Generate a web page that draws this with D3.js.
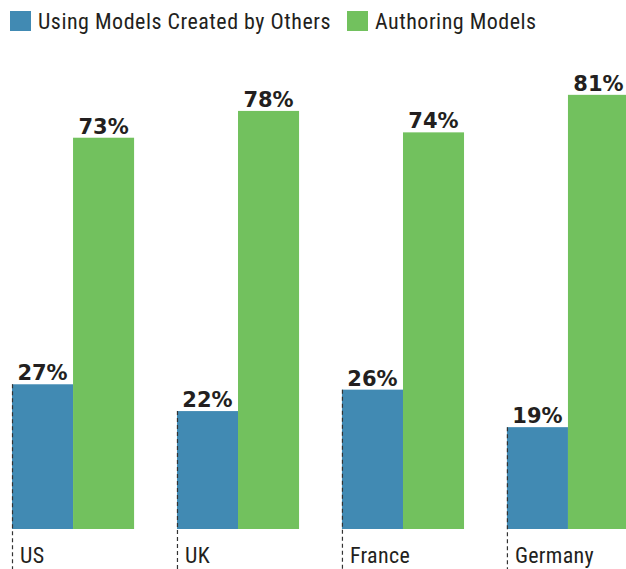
<!DOCTYPE html>
<html>
<head>
<meta charset="utf-8">
<script src="https://cdn.jsdelivr.net/npm/d3@7"></script>
<style>
  body { margin: 0; background: #fff; }
  svg { display: block; }
</style>
</head>
<body>
<div id="chart"></div>
<script>
const countries = ['US', 'UK', 'France', 'Germany'];
const seriesNames = ['Using Models Created by Others', 'Authoring Models'];
const usingOthers = [27, 22, 26, 19];
const authoring = [73, 78, 74, 81];
const colors = ['#418ab3', '#72c15e'];

const width = 626, height = 569;
const baseY = 529;
const textColor = '#231f20';
const condensed = '"Roboto Condensed", Roboto, sans-serif';

const svg = d3.select('#chart').append('svg')
    .attr('width', width)
    .attr('height', height);

const x0 = d3.scaleBand()
    .domain(countries)
    .range([12, 629])
    .paddingInner(0.26)
    .paddingOuter(0);

const x1 = d3.scaleBand()
    .domain(seriesNames)
    .range([0, x0.bandwidth()]);

const y = d3.scaleLinear()
    .domain([0, 100])
    .range([baseY, baseY - 536]);

const rows = countries.map((c, i) => ({
    country: c,
    values: [
        { key: seriesNames[0], value: usingOthers[i], color: colors[0] },
        { key: seriesNames[1], value: authoring[i], color: colors[1] }
    ]
}));

// legend
const legend = svg.append('g');
const legendX = [10, 347];
seriesNames.forEach((name, i) => {
    const g = legend.append('g').attr('transform', `translate(${legendX[i]},11)`);
    g.append('rect').attr('width', 21).attr('height', 20).attr('fill', colors[i]);
    g.append('text')
        .attr('x', 28)
        .attr('y', 18)
        .attr('font-family', condensed)
        .attr('font-size', 22)
        .attr('letter-spacing', 0.5)
        .attr('fill', textColor)
        .text(name);
});

const groups = svg.selectAll('.group')
    .data(rows)
    .enter()
    .append('g')
    .attr('class', 'group')
    .attr('transform', d => `translate(${x0(d.country)},0)`);

groups.selectAll('rect')
    .data(d => d.values)
    .enter()
    .append('rect')
    .attr('x', d => x1(d.key))
    .attr('y', d => y(d.value))
    .attr('width', x1.bandwidth())
    .attr('height', d => baseY - y(d.value))
    .attr('fill', d => d.color);

groups.selectAll('.val')
    .data(d => d.values)
    .enter()
    .append('text')
    .attr('class', 'val')
    .attr('x', d => x1(d.key) + x1.bandwidth() / 2)
    .attr('y', d => y(d.value) - 4)
    .attr('text-anchor', 'middle')
    .attr('font-family', '"DejaVu Sans", sans-serif')
    .attr('font-weight', 'bold')
    .attr('font-size', 21)
    .attr('fill', textColor)
    .text(d => d.value + '%');

// dashed guide from the first bar top down past the label
groups.append('line')
    .attr('x1', 0.5)
    .attr('x2', 0.5)
    .attr('y1', d => y(d.values[0].value))
    .attr('y2', height)
    .attr('stroke', '#333')
    .attr('stroke-width', 1.2)
    .attr('stroke-dasharray', '4,3');

groups.append('text')
    .attr('x', 8)
    .attr('y', 563)
    .attr('font-family', condensed)
    .attr('font-size', 22)
    .attr('letter-spacing', 0.3)
    .attr('fill', textColor)
    .text(d => d.country);
</script>
</body>
</html>
